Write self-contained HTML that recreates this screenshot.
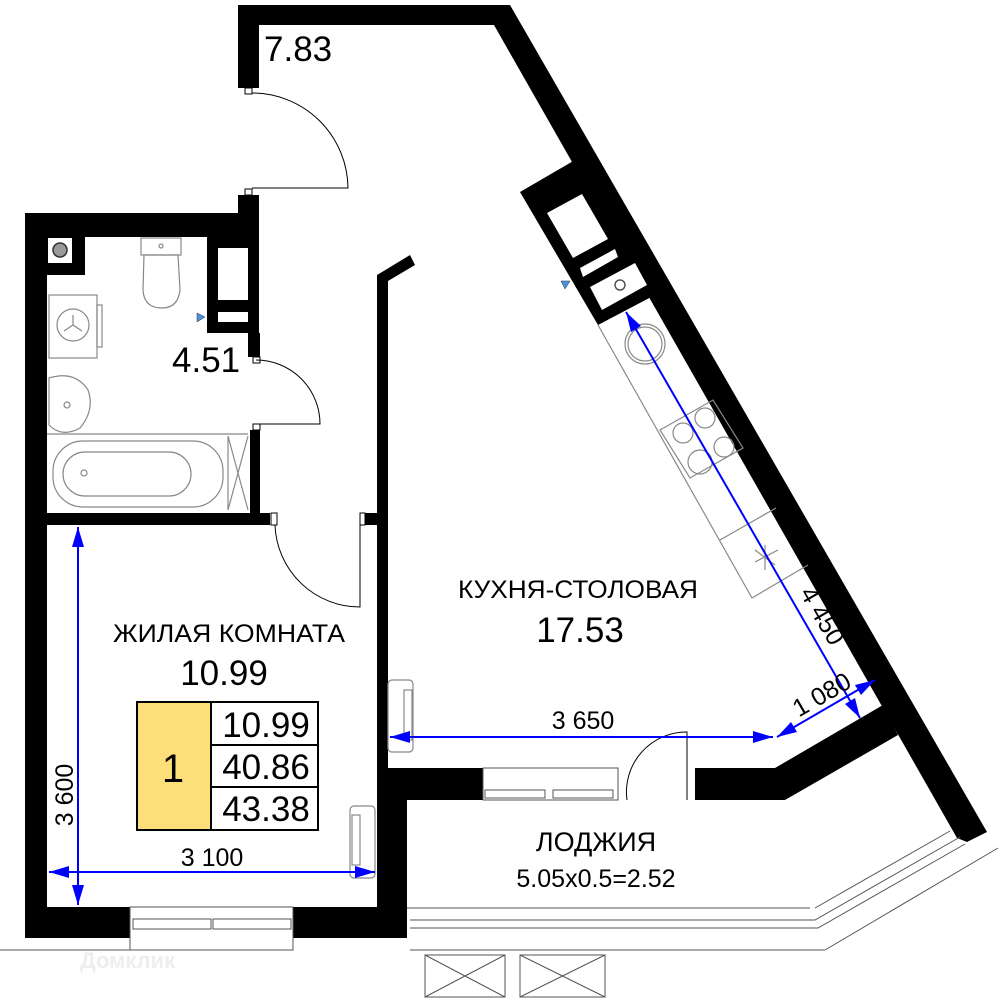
<!DOCTYPE html>
<html><head><meta charset="utf-8"><style>
html,body{margin:0;padding:0;background:#fff}
svg{display:block}
text{font-family:"Liberation Sans","DejaVu Sans",sans-serif;fill:#000}
</style></head><body>
<svg width="1000" height="1000" viewBox="0 0 1000 1000" xmlns="http://www.w3.org/2000/svg">
<g fill="#000">
<polygon points="238,5 510,5 987,832 967,842 957,838 494,25 259,25 259,88 238,88"/>
<polygon points="520,192 575,160 655,295 598,325"/>
<rect x="238" y="195" width="21" height="43"/>
<rect x="25" y="213" width="234" height="24"/>
<rect x="25" y="213" width="22" height="725"/>
<rect x="47" y="237" width="38" height="38"/>
<rect x="207" y="237" width="52" height="96"/>
<rect x="248" y="333" width="12" height="24"/>
<rect x="250" y="430" width="10" height="95"/>
<rect x="25" y="513" width="245" height="12"/>
<rect x="362" y="513" width="15" height="12"/>
<polygon points="377,275 410,255 415,265 388,281 388,768 483,768 483,800 407,800 407,938 377,938"/>
<rect x="25" y="907" width="105" height="31"/>
<rect x="293" y="907" width="114" height="31"/>
<polygon points="695,768 775,768 883,705 898,735 785,800 695,800"/>
</g>
<g fill="#fff">
<polygon points="547,213 582,194 608,239 573,258"/>
<polygon points="580,268 615,249 618,257 583,277"/>
<polygon points="590,287 635,263 647,285 602,310"/>
<rect x="48" y="238" width="24" height="25"/>
<rect x="218" y="248" width="30" height="52"/>
<rect x="218" y="312" width="30" height="10"/>
</g>
<circle cx="620" cy="285" r="5" fill="none" stroke="#555" stroke-width="1.5"/>
<circle cx="60" cy="250" r="7" fill="#999" stroke="#333" stroke-width="1.5"/>
<g fill="#fff" stroke="#000" stroke-width="1">
<rect x="245" y="88" width="7" height="6"/><rect x="245" y="189" width="7" height="6"/>
<rect x="253" y="357" width="7" height="6"/><rect x="253" y="424" width="7" height="6"/>
<rect x="271" y="513" width="6" height="12"/><rect x="360" y="513" width="5" height="12"/>
</g>
<g fill="none" stroke="#000" stroke-width="1">
<path d="M252,93 A96,96 0 0 1 348,188 L252,188"/>
<path d="M256,360 A64,64 0 0 1 320,424 L256,424"/>
<path d="M275,525 A85,85 0 0 0 360,607 L360,525"/>
<path d="M627,800 A60,60 0 0 1 687,732 L687,800"/>
</g>
<g fill="none" stroke="#888" stroke-width="1.2">
<rect x="141" y="238" width="40" height="17"/>
<path d="M144,255 L178,255 L180,290 Q178,308 162,308 Q144,308 143,290 Z"/>
<circle cx="161" cy="246" r="2"/>
<rect x="49" y="295" width="48" height="63"/><rect x="97" y="305" width="5" height="42"/>
<circle cx="73" cy="325" r="16"/><path d="M73,325 L73,315 M73,325 L64,331 M73,325 L82,331"/>
<path d="M49,378 Q75,370 88,390 Q95,410 80,428 Q62,438 49,425 Z"/><circle cx="67" cy="405" r="3"/>
<line x1="47" y1="434" x2="248" y2="434"/>
<rect x="53" y="441" width="170" height="66" rx="30"/>
<rect x="63" y="452" width="128" height="44" rx="22"/><circle cx="84" cy="473" r="3"/>
<path d="M228,436 L248,510 M248,436 L228,510 M228,436 V510"/>
<line x1="598" y1="325" x2="752" y2="598"/><line x1="752" y1="598" x2="808" y2="565"/>
<circle cx="645" cy="344" r="20"/><circle cx="645" cy="344" r="17"/>
<polygon points="660,430 713,400 743,448 690,478"/>
<circle cx="683" cy="433" r="10"/><circle cx="705" cy="418" r="10"/><circle cx="700" cy="462" r="12"/><circle cx="724" cy="447" r="10"/>
<line x1="720" y1="540" x2="776" y2="508"/>
<path d="M755,550 L775,565 M765,545 L765,570 M755,562 L778,550"/>
<rect x="388" y="680" width="25" height="72" rx="4"/><rect x="404" y="690" width="8" height="50"/>
<rect x="350" y="806" width="25" height="72" rx="4"/><rect x="352" y="815" width="8" height="50"/>
</g>
<g fill="none" stroke="#555" stroke-width="1">
<rect x="130" y="907" width="163" height="43"/>
<rect x="133" y="919" width="78" height="10"/><rect x="213" y="919" width="78" height="10"/>
<rect x="483" y="768" width="135" height="32"/>
<rect x="485" y="790" width="60" height="8"/><rect x="553" y="790" width="60" height="8"/>
<line x1="407" y1="908" x2="810" y2="908"/><line x1="950" y1="831" x2="815" y2="908"/>
<path d="M410,920 L815,920 L960,837 M410,928 L818,928 L965,844"/>
<line x1="410" y1="950" x2="825" y2="950"/><line x1="825" y1="950" x2="998" y2="848"/>
<line x1="0" y1="950" x2="130" y2="950"/>
<rect x="425" y="955" width="80" height="42"/><rect x="520" y="955" width="85" height="42"/>
<path d="M425,955 L505,997 M505,955 L425,997 M520,955 L605,997 M605,955 L520,997"/>
</g>
<polygon points="197,313 205,317 197,322" fill="#4a90e2" stroke="#333" stroke-width="0.5"/>
<polygon points="561,281 570,281 565,289" fill="#4a90e2" stroke="#333" stroke-width="0.5"/>
<g stroke="#00f" stroke-width="2" fill="none">
<line x1="78" y1="527" x2="78" y2="905"/>
<line x1="49" y1="872" x2="375" y2="872"/>
<line x1="390" y1="737" x2="773" y2="737"/>
<line x1="626" y1="312" x2="860" y2="718"/>
<line x1="777" y1="737" x2="875" y2="680"/>
</g>
<g fill="#00f">
<polygon points="78,527 72,547 84,547"/><polygon points="78,905 72,885 84,885"/>
<polygon points="49,872 69,866 69,878"/><polygon points="375,872 355,866 355,878"/>
<polygon points="390,737 410,731 410,743"/><polygon points="773,737 753,731 753,743"/>
<polygon points="626,312 641,326 631,332"/><polygon points="860,718 855,698 845,704"/>
<polygon points="777,737 797,732 791,722"/><polygon points="875,680 861,695 855,685"/>
</g>
<rect x="137" y="702" width="74" height="128" fill="#fddf7a" stroke="#000" stroke-width="2"/>
<rect x="211" y="702" width="107" height="128" fill="#fff" stroke="#000" stroke-width="2"/>
<line x1="211" y1="745" x2="318" y2="745" stroke="#000" stroke-width="2"/>
<line x1="211" y1="787" x2="318" y2="787" stroke="#000" stroke-width="2"/>
<g font-size="35">
<text x="173" y="782" text-anchor="middle" font-size="40">1</text>
<text x="266" y="737" text-anchor="middle">10.99</text>
<text x="266" y="779" text-anchor="middle">40.86</text>
<text x="266" y="821" text-anchor="middle">43.38</text>
<text x="264" y="61">7.83</text>
<text x="172" y="372">4.51</text>
<text x="224" y="685" text-anchor="middle">10.99</text>
<text x="580" y="642" text-anchor="middle">17.53</text>
</g>
<g font-size="25">
<text x="113" y="642" textLength="232" lengthAdjust="spacingAndGlyphs">ЖИЛАЯ КОМНАТА</text>
<text x="458" y="598" textLength="240" lengthAdjust="spacingAndGlyphs">КУХНЯ-СТОЛОВАЯ</text>
<text x="212" y="866" text-anchor="middle">3 100</text>
<text x="583" y="729" text-anchor="middle">3 650</text>
<text transform="translate(73,795) rotate(-90)" text-anchor="middle">3 600</text>
<text transform="translate(815,620) rotate(60)" text-anchor="middle">4 450</text>
<text transform="translate(826,702) rotate(-30)" text-anchor="middle">1 080</text>
<text x="596" y="851" text-anchor="middle" font-size="27">ЛОДЖИЯ</text>
<text x="596" y="887" text-anchor="middle">5.05x0.5=2.52</text>
</g>
<text x="80" y="968" font-size="22" font-weight="bold" style="fill:#eee">Домклик</text>
</svg>
</body></html>
